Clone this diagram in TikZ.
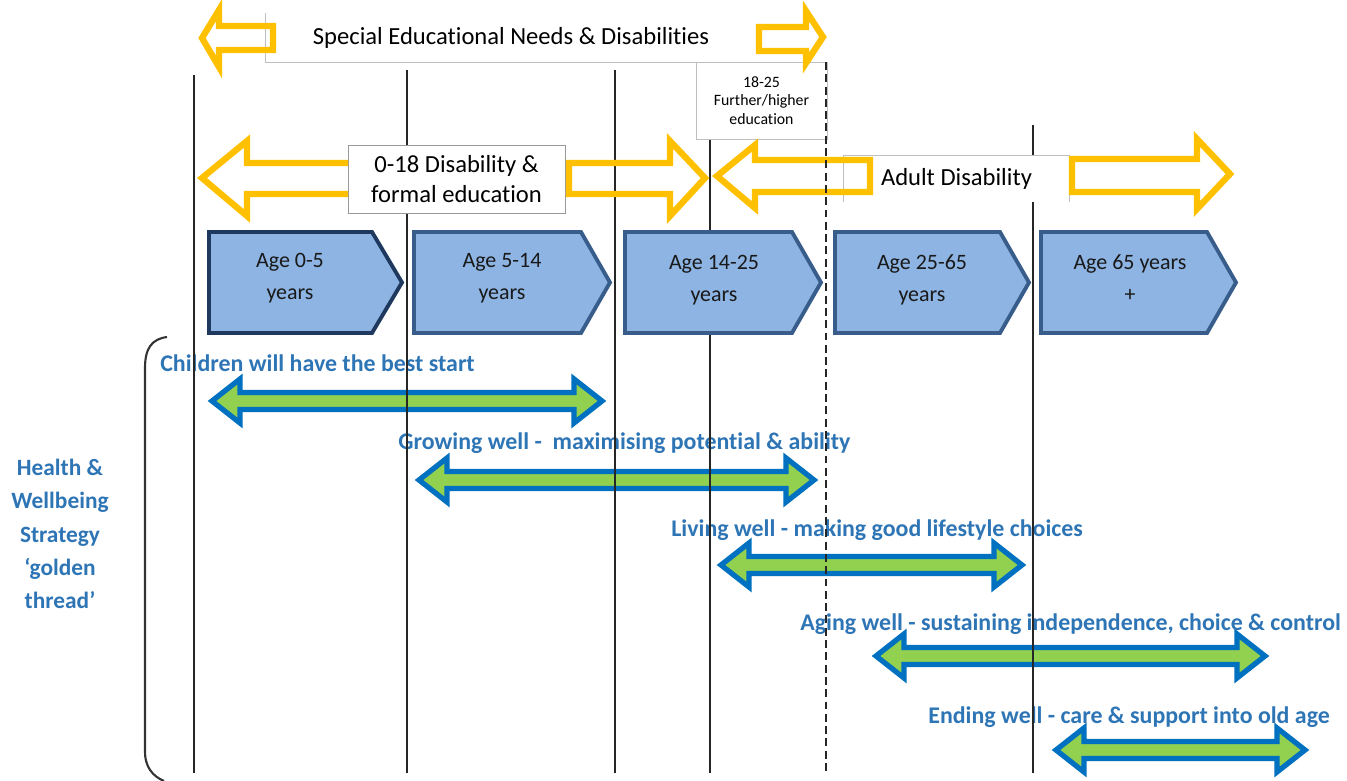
\documentclass[tikz,border=0pt]{standalone}
\usepackage{fontspec}
\setmainfont{Carlito}[Ligatures=NoCommon]
\usepackage{tikz}
\definecolor{senyellow}{RGB}{255,192,0}
\definecolor{threadblue}{RGB}{0,112,192}
\definecolor{threadgreen}{RGB}{146,208,80}
\definecolor{labelblue}{RGB}{46,117,182}
\definecolor{agefill}{RGB}{141,180,226}
\definecolor{ageedge}{RGB}{56,93,138}
\definecolor{agedark}{RGB}{31,56,94}
\definecolor{boxgray}{RGB}{191,191,191}

\begin{document}
\begin{tikzpicture}[x=0.02cm, y=-0.02cm,
	divider/.style={line width=1.2pt, black!85},
	boxnode/.style={fill=white, inner sep=0pt, align=center, font=\fontsize{14}{17.5}\selectfont},
	boxedge/.style={boxgray, line width=0.6pt},
	yarrow/.style={draw=senyellow, line width=3.6pt, line join=miter},
	garrow/.style={draw=threadblue, fill=threadgreen, line width=3pt, line join=miter},
	agebox/.style={draw=ageedge, fill=agefill, line width=2.2pt, line join=miter},
	agetext/.style={align=center, text=black!90, font=\fontsize{12.5}{18}\selectfont},
	thread/.style={anchor=west, inner sep=0pt, text=labelblue, font=\bfseries\fontsize{13.6}{15}\selectfont}]
				\useasboundingbox (0,0) rectangle (1347,781);
				
				\draw[garrow] (212,401) -- (240,379) -- (240,392.5) -- (574,392.5) -- (574,379) -- (602,401) -- (574,423) -- (574,409.5) -- (240,409.5) -- (240,423) -- cycle;
				\draw[garrow] (419,480) -- (447,458) -- (447,471.5) -- (786,471.5) -- (786,458) -- (814,480) -- (786,502) -- (786,488.5) -- (447,488.5) -- (447,502) -- cycle;
				\draw[garrow] (721,565) -- (749,543) -- (749,556.5) -- (994,556.5) -- (994,543) -- (1022,565) -- (994,587) -- (994,573.5) -- (749,573.5) -- (749,587) -- cycle;
				\draw[garrow] (876,656) -- (904,634) -- (904,647.5) -- (1237,647.5) -- (1237,634) -- (1265,656) -- (1237,678) -- (1237,664.5) -- (904,664.5) -- (904,678) -- cycle;
				\draw[garrow] (1056,750) -- (1084,728) -- (1084,741.5) -- (1277,741.5) -- (1277,728) -- (1305,750) -- (1277,772) -- (1277,758.5) -- (1084,758.5) -- (1084,772) -- cycle;
				
				\node[thread] (best) at (160,363) {Children will have the best start};
				\node[thread] (growing) at (398,443) {Growing well -\ \ maximising potential \& ability};
				\node[thread] (living) at (671,530) {Living well - making good lifestyle choices};
				\node[thread] (aging) at (800,624) {Aging well - sustaining independence, choice \& control};
				\node[thread] (ending) at (928,717) {Ending well - care \& support into old age};
				\node[align=center, text=labelblue, font=\bfseries\fontsize{13.3}{19}\selectfont] (hwb) at (60,534) {Health \&\\Wellbeing\\Strategy\\‘golden\\thread’};
				\draw[line width=1.2pt, black!80] (167,337) .. controls (152,339) and (145,348) .. (145,368) -- (145,752) .. controls (145,766) and (152,776) .. (164,781);
				
				\draw[divider] (194,75) -- (194,773);
				\draw[divider] (407,70) -- (407,773);
				\draw[divider] (615,70) -- (615,773);
				\draw[divider] (710,139) -- (710,773);
				\draw[divider] (1033,125) -- (1033,773);
				
				\node[boxnode, minimum width=9.8cm, minimum height=0.98cm] (sen) at (511,37.5) {Special Educational Needs \& Disabilities};
				\draw[boxedge] (sen.north west) |- (sen.south east);
				\node[boxnode, draw=boxgray, minimum width=2.62cm, minimum height=1.54cm, font=\fontsize{9}{10.5}\selectfont] (further) at (761.5,100.5) {18-25\\Further/higher\\education};
				\node[boxnode, draw=boxgray!80!black, minimum width=4.34cm, minimum height=1.36cm] (formal) at (456.5,179) {0-18 Disability \&\\formal education};
				\node[boxnode, minimum width=4.5cm, minimum height=0.92cm] (adult) at (956.5,179) {Adult Disability};
				\draw[boxedge] (adult.south west) |- (adult.north east) -- (adult.south east);
				
				\draw[yarrow] (202,38) -- (219,10) -- (219,26) -- (273,26) -- (273,50) -- (219,50) -- (219,67) -- cycle;
				\draw[yarrow] (759,27) -- (806,27) -- (806,11) -- (823,37) -- (806,63) -- (806,51) -- (759,51) -- cycle;
				\draw[yarrow] (348,163) -- (247,163) -- (247,141) -- (202,178) -- (247,216) -- (247,194) -- (348,194);
				\draw[yarrow] (569,163) -- (670,163) -- (670,141) -- (705,178) -- (670,216) -- (670,194) -- (569,194) -- cycle;
				\draw[yarrow] (870,160) -- (755,160) -- (755,145) -- (717,176) -- (755,208) -- (755,192) -- (870,192) -- cycle;
				\draw[yarrow] (1072,159) -- (1197,159) -- (1197,139) -- (1230,174) -- (1197,209) -- (1197,192) -- (1072,192) -- cycle;
				
				\draw[divider, dash pattern=on 4.5pt off 2.5pt] (826,62) -- (826,773);
				
				\filldraw[agebox, draw=agedark] (209,232) -- (372,232) -- (402,282.5) -- (372,333) -- (209,333) -- cycle;
				\filldraw[agebox] (414,232) -- (581,232) -- (610,282.5) -- (581,333) -- (414,333) -- cycle;
				\filldraw[agebox] (625,232) -- (792,232) -- (821,282.5) -- (792,333) -- (625,333) -- cycle;
				\filldraw[agebox] (835,232) -- (1000,232) -- (1029,282.5) -- (1000,333) -- (835,333) -- cycle;
				\filldraw[agebox] (1041,232) -- (1207,232) -- (1236,282.5) -- (1207,333) -- (1041,333) -- cycle;
				\node[agetext] (age05) at (290,278) {Age 0-5\\years};
				\node[agetext] (age514) at (502,278) {Age 5-14\\years};
				\node[agetext] (age1425) at (714,280) {Age 14-25\\years};
				\node[agetext] (age2565) at (922,280) {Age 25-65\\years};
				\node[agetext] (age65) at (1130,278) {Age 65 years\\+};
				\end{tikzpicture}
\end{document}
